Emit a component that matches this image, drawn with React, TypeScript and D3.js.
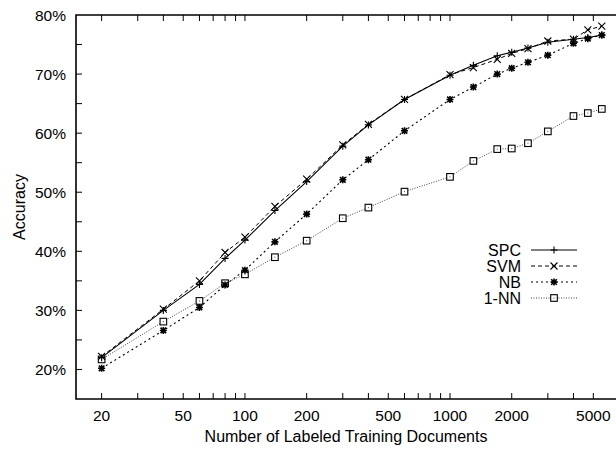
import React from "react";
import * as d3 from "d3";

const docs = [20, 40, 60, 80, 100, 140, 200, 300, 400, 600, 1000, 1300, 1700, 2000, 2400, 3000, 4000, 4700, 5500];
const spc = [22.0, 30.0, 34.4, 38.8, 41.9, 46.9, 51.8, 57.8, 61.4, 65.7, 69.8, 71.5, 73.1, 73.7, 74.4, 75.4, 75.9, 76.2, 76.6];
const svm = [22.2, 30.2, 35.0, 39.8, 42.4, 47.6, 52.2, 58.0, 61.5, 65.7, 69.9, 71.1, 72.5, 73.5, 74.3, 75.6, 75.9, 77.5, 78.1];
const nb = [20.2, 26.6, 30.5, 34.3, 36.8, 41.6, 46.3, 52.1, 55.5, 60.4, 65.7, 67.8, 70.0, 71.0, 72.0, 73.2, 75.2, 76.0, 76.6];
const nn = [21.7, 28.1, 31.6, 34.6, 36.1, 39.0, 41.8, 45.6, 47.4, 50.1, 52.6, 55.3, 57.3, 57.4, 58.3, 60.3, 62.9, 63.4, 64.1];

const xTicks = [20, 30, 40, 50, 60, 70, 80, 90, 100, 200, 300, 400, 500, 600, 700, 800, 900, 1000, 2000, 3000, 4000, 5000];
const xTickLabels = [20, 50, 100, 200, 500, 1000, 2000, 5000];
const yTicks = [20, 25, 30, 35, 40, 45, 50, 55, 60, 65, 70, 75];
const yTickLabels = [20, 30, 40, 50, 60, 70, 80];

const seriesNames = ["SPC", "SVM", "NB", "1-NN"];
const seriesValues = [spc, svm, nb, nn];

const W = 616, H = 454;
const L = 76, T = 15, B = 399, R = 616;
const FONT = "'Liberation Sans', Arial, Helvetica, sans-serif";

const styles = [
  { dash: "none", color: "#000", width: 1.1 },
  { dash: "4,3", color: "#000", width: 1 },
  { dash: "2,3", color: "#000", width: 1.1 },
  { dash: "1,1.5", color: "#444", width: 1 },
];

function Marker({ kind, x, y }: { kind: number; x: number; y: number }) {
  const s = 3.5;
  const st = { stroke: "#000", strokeWidth: 1.1, fill: "none" } as const;
  if (kind === 0) {
    return <path d={`M${x - s},${y}H${x + s}M${x},${y - s}V${y + s}`} {...st} />;
  }
  if (kind === 1) {
    return <path d={`M${x - s},${y - s}L${x + s},${y + s}M${x - s},${y + s}L${x + s},${y - s}`} {...st} />;
  }
  if (kind === 2) {
    return (
      <path
        d={`M${x - s},${y}H${x + s}M${x},${y - s}V${y + s}M${x - s * 0.8},${y - s * 0.8}L${x + s * 0.8},${y + s * 0.8}M${x - s * 0.8},${y + s * 0.8}L${x + s * 0.8},${y - s * 0.8}`}
        stroke="#000"
        strokeWidth={1.6}
        fill="none"
      />
    );
  }
  return (
    <g>
      <rect x={x - 3.3} y={y - 3.3} width={6.6} height={6.6} fill="#fff" stroke="#000" strokeWidth={1.1} />
      <rect x={x - 0.5} y={y - 0.5} width={1} height={1} fill="#555" />
    </g>
  );
}

export default function App() {
  const x = d3.scaleLog().domain([15, 6450]).range([L, R]);
  const y = d3.scaleLinear().domain([15, 80]).range([B, T]);
  const line = d3
    .line<number>()
    .x((_, i) => x(docs[i]))
    .y((v) => y(v));

  const legendRows = [250, 266, 282, 298];

  return (
    <svg width={W} height={H} style={{ position: "absolute", left: 0, top: 0, background: "#fff" }} fontFamily={FONT}>
      <rect x={0} y={0} width={W} height={H} fill="#fff" />
      {/* ticks */}
      {xTicks.map((t) => (
        <g key={"xt" + t}>
          <line x1={x(t)} x2={x(t)} y1={B} y2={B - 6} stroke="#000" strokeWidth={1} />
          <line x1={x(t)} x2={x(t)} y1={T} y2={T + 6} stroke="#000" strokeWidth={1} />
        </g>
      ))}
      {yTicks.map((t) => (
        <line key={"yt" + t} x1={L} x2={L + 6} y1={y(t)} y2={y(t)} stroke="#000" strokeWidth={1} />
      ))}
      {/* tick labels */}
      {xTickLabels.map((t) => (
        <text key={"xl" + t} x={x(t)} y={421} textAnchor="middle" fontSize={15.5} fill="#000">
          {t}
        </text>
      ))}
      {yTickLabels.map((t) => (
        <text key={"yl" + t} x={66} y={y(t)} dy="0.36em" textAnchor="end" fontSize={15.5} fill="#000">
          {t}%
        </text>
      ))}
      {/* axis titles */}
      <text x={(L + R) / 2} y={442} textAnchor="middle" fontSize={16} fill="#000">
        Number of Labeled Training Documents
      </text>
      <text transform={`translate(25,207) rotate(-90)`} textAnchor="middle" fontSize={16} fill="#000">
        Accuracy
      </text>
      {/* series */}
      {seriesValues.map((vals, k) => (
        <path
          key={"s" + k}
          d={line(vals) || ""}
          fill="none"
          stroke={styles[k].color}
          strokeWidth={styles[k].width}
          strokeDasharray={styles[k].dash}
        />
      ))}
      {[3, 2, 1, 0].map((k) =>
        seriesValues[k].map((v, i) => <Marker key={`m${k}-${i}`} kind={k} x={x(docs[i])} y={y(v)} />)
      )}
      {/* legend */}
      {seriesNames.map((n, k) => (
        <g key={"lg" + n}>
          <text x={521} y={legendRows[k]} dy="0.36em" textAnchor="end" fontSize={16} fill="#000">
            {n}
          </text>
          <line
            x1={531}
            x2={577}
            y1={legendRows[k]}
            y2={legendRows[k]}
            stroke={styles[k].color}
            strokeWidth={styles[k].width}
            strokeDasharray={styles[k].dash}
          />
          <Marker kind={k} x={554} y={legendRows[k]} />
        </g>
      ))}
      {/* frame */}
      <path d={`M${R + 2},${T}H${L}V${B}H${R + 2}`} fill="none" stroke="#000" strokeWidth={1.6} />
    </svg>
  );
}
